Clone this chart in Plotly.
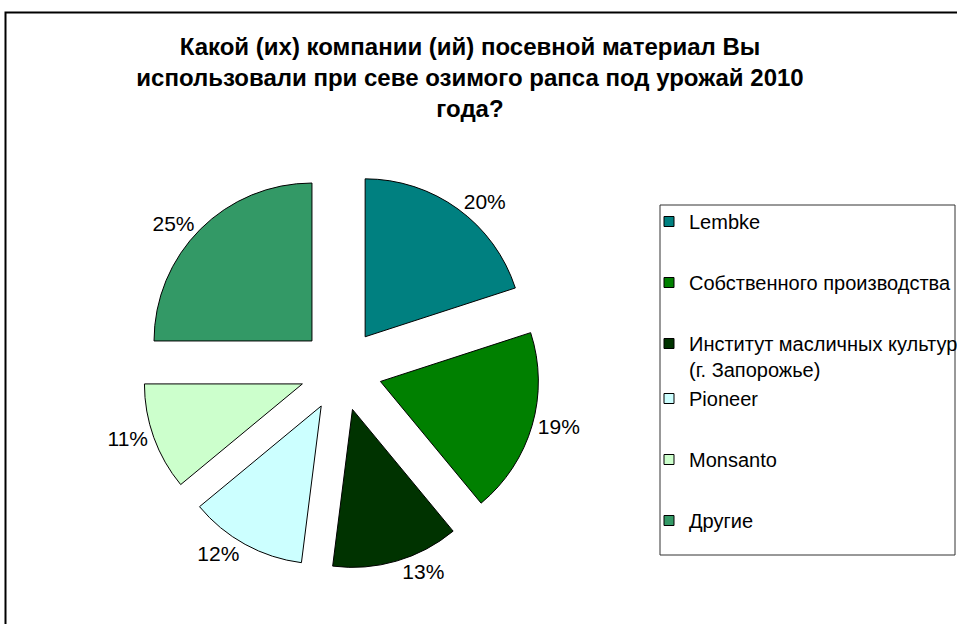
import plotly.graph_objects as go

labels = ["Lembke", "Собственного производства", "Институт масличных культур<br>(г. Запорожье)",
          "Pioneer", "Monsanto", "Другие"]
values = [20, 19, 13, 12, 11, 25]
colors = ["#008080", "#008000", "#003300", "#CCFFFF", "#CCFFCC", "#339966"]
legend_groups = ["g1", "g2", "g3", "g3", "g4", "g5"]
title_text = ("Какой (их) компании (ий) посевной материал Вы<br>"
              "использовали при севе озимого рапса под урожай 2010<br>года?")

W, H = 957, 624
FONT = "Liberation Sans, Arial, sans-serif"

fig = go.Figure()
fig.add_trace(go.Pie(
    labels=labels, values=values, sort=False, direction="clockwise", rotation=0,
    marker=dict(colors=colors, line=dict(color="black", width=1)),
    pull=[0.26] * len(values),
    texttemplate="%{value}%", textposition="outside",
    textfont=dict(family=FONT, size=21, color="black"),
    showlegend=False,
    domain=dict(x=[142 / W, 540 / W], y=[1 - 569 / H, 1 - 171 / H]),
))

for lab, col, grp in zip(labels, colors, legend_groups):
    fig.add_trace(go.Scatter(
        x=[None], y=[None], mode="markers", name=lab, legendgroup=grp,
        marker=dict(symbol="square", size=10, color=col, line=dict(color="black", width=1)),
    ))

fig.update_layout(
    width=W, height=H, autosize=False,
    margin=dict(l=0, r=0, t=0, b=0, pad=0, autoexpand=False),
    paper_bgcolor="white", plot_bgcolor="white",
    xaxis=dict(visible=False), yaxis=dict(visible=False),
    title=dict(text=title_text, x=470 / W, xanchor="center", yref="container",
               y=1 - 55 / H, yanchor="middle",
               font=dict(family=FONT, size=24, color="black", weight="bold")),
    legend=dict(x=649 / W, y=1 - 202 / H, xanchor="left", yanchor="top",
                font=dict(family=FONT, size=20, color="black"),
                tracegroupgap=32, bgcolor="rgba(0,0,0,0)", borderwidth=0,
                valign="top", traceorder="grouped"),
    shapes=[
        dict(type="rect", xref="paper", yref="paper", x0=5.5 / W, x1=1.05,
             y0=-0.05, y1=1 - 12.5 / H, line=dict(color="black", width=2), layer="above"),
        dict(type="rect", xref="paper", yref="paper", x0=660 / W, x1=955 / W,
             y0=1 - 555 / H, y1=1 - 205 / H, line=dict(color="#333333", width=1), layer="above"),
    ],
)

fig.write_html("out.html", config={"displayModeBar": False},
               post_script="document.body.style.margin='0';document.body.style.overflow='hidden';")
